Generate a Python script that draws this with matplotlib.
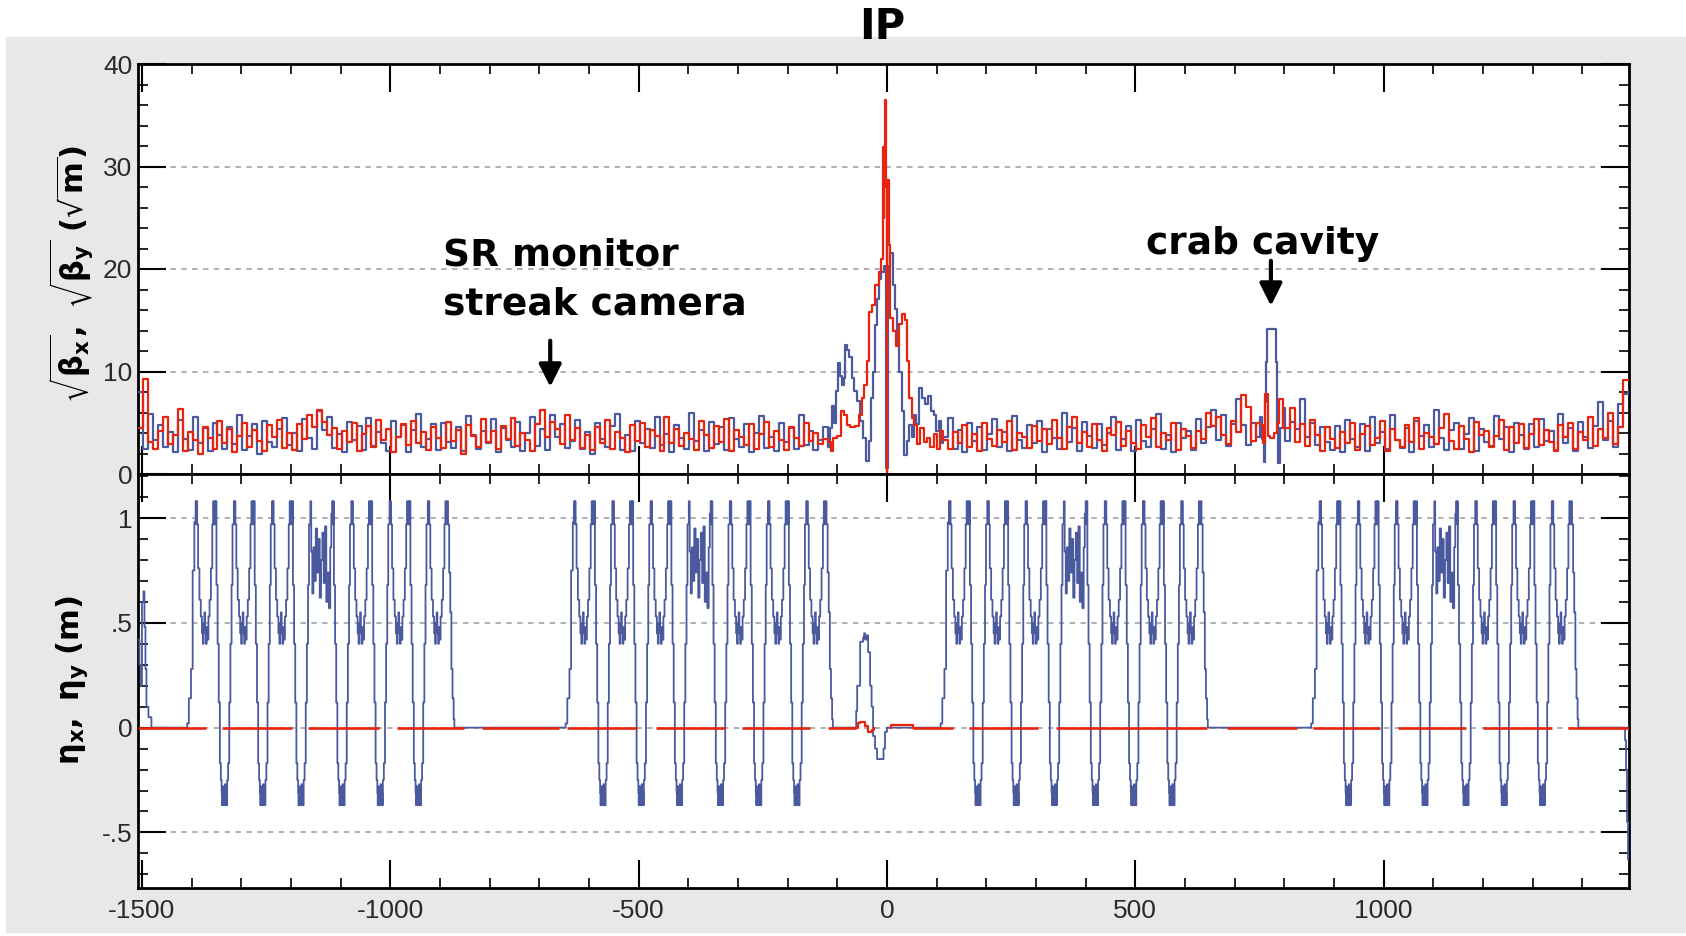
import numpy as np
import matplotlib
matplotlib.use("Agg")
import matplotlib.pyplot as plt
from matplotlib.patches import Rectangle
from matplotlib.ticker import MultipleLocator, FixedLocator, FixedFormatter

plt.rcParams['font.family'] = ['DejaVu Sans']
plt.rcParams['axes.unicode_minus'] = False
plt.rcParams['mathtext.fontset'] = 'dejavusans'
plt.rcParams['mathtext.default'] = 'regular'

BLUE = '#4b5a9f'
RED = '#e8240e'

# ---------------- sqrt(beta) data (sqrt m) ----------------
# arc samples every 10 m
step = 10.0
left_s0, mid_s0, far_s0 = -1508.0, 112.0, 802.0

bx_left = [8.0, 2.4, 5.9, 3.3, 4.8, 2.6, 4.1, 2.1, 5.3, 3.4,
           2.3, 5.6, 3.0, 4.5, 2.2, 5.0, 3.8, 2.4, 4.6, 2.9,
           5.8, 2.3, 3.7, 4.9, 2.0, 5.2, 3.1, 2.6, 4.4, 5.5,
           2.8, 4.0, 2.2, 5.4, 3.5, 2.4, 6.1, 4.3, 5.6, 2.5,
           3.9, 2.1, 5.1, 3.3, 4.7, 2.3, 5.5, 2.7, 4.1, 3.0,
           2.2, 5.2, 3.6, 4.8, 2.1, 4.3, 5.9, 2.6, 3.4, 4.9,
           2.3, 5.0, 3.1, 2.5, 4.6, 2.2, 5.7, 3.8, 2.4, 4.2,
           3.0, 5.4, 2.1, 4.5, 3.3, 2.6, 5.1, 2.2, 4.0, 5.6,
           2.7, 4.4, 2.3, 5.8, 3.6, 4.9, 2.5, 3.2, 5.3, 2.4,
           4.1, 2.0, 5.0, 3.4, 2.6, 4.7, 5.9, 2.3, 3.8, 2.2,
           5.2, 3.0, 4.4, 2.5, 5.6, 2.8, 3.9, 2.1, 4.8, 3.5,
           2.4, 6.0, 3.2, 4.3, 2.2, 5.1, 2.9, 4.6, 2.3, 5.5,
           3.4, 2.6, 4.9, 2.1, 4.0, 5.7, 2.5, 3.6, 2.2, 5.0,
           3.1, 4.5, 2.4, 5.8, 2.8, 4.2, 2.3, 3.3, 4.6]
by_left = [4.5, 9.3, 3.1, 2.4, 4.2, 5.6, 2.9, 3.8, 6.3, 2.2,
           4.1, 3.3, 2.0, 4.6, 3.5, 2.4, 5.2, 3.0, 4.4, 2.1,
           3.7, 5.0, 2.6, 4.3, 3.2, 2.2, 4.8, 3.6, 5.3, 2.5,
           4.0, 2.3, 4.9, 3.4, 5.8, 4.6, 6.2, 5.1, 3.8, 4.5,
           2.4, 4.2, 3.1, 5.0, 2.2, 3.9, 4.7, 2.6, 5.3, 3.3,
           4.4, 2.1, 3.6, 4.9, 2.8, 5.2, 3.0, 4.1, 2.3, 4.6,
           3.5, 2.5, 5.1, 3.2, 4.3, 2.0, 4.8, 3.7, 2.6, 5.4,
           3.1, 4.2, 2.4, 4.7, 3.4, 5.5, 2.7, 4.0, 3.3, 2.2,
           4.9, 6.2, 3.6, 5.1, 4.4, 2.9, 5.8, 3.3, 4.5, 2.5,
           3.8, 2.3, 4.6, 3.0, 5.3, 2.4, 4.1, 3.5, 2.1, 4.8,
           3.2, 5.0, 2.6, 4.3, 3.7, 2.2, 5.6, 3.0, 4.4, 2.7,
           4.0, 3.4, 2.3, 5.2, 3.8, 2.5, 4.7, 3.1, 5.4, 2.2,
           4.3, 3.6, 2.8, 4.9, 2.4, 3.9, 5.1, 2.6, 4.2, 3.3,
           2.3, 4.6, 3.5, 2.7, 5.0, 3.2, 4.0, 2.9, 3.4]

# interaction region, (s, value) breakpoints
bx_ir = [(-118, 2.6), (-114, 4.5), (-111, 6.6), (-107, 5.0), (-103, 8.1), (-99, 10.8),
         (-95, 9.6), (-91, 8.7), (-87, 9.4), (-84, 12.6), (-80, 12.1), (-76, 11.4),
         (-71, 9.4), (-66, 8.1), (-60, 7.1), (-54, 5.2), (-48, 3.5), (-43, 1.3),
         (-37, 3.2), (-32, 7.4), (-28, 10.0), (-24, 14.5), (-20, 17.1), (-16, 19.0),
         (-12, 19.7), (-7, 20.3), (-1.5, 0.6), (1.5, 20.3), (7, 21.6), (12, 18.4),
         (17, 16.1), (21, 12.6), (25, 10.0), (30, 6.1), (35, 1.9), (40, 3.2),
         (45, 4.8), (50, 3.6), (54, 5.8), (59, 4.9), (64, 8.4), (70, 7.4),
         (76, 6.8), (82, 7.6), (88, 6.1), (94, 5.8), (99, 4.2), (105, 5.2), (109, 3.0)]
by_ir = [(-118, 3.1), (-113, 2.2), (-108, 3.5), (-100, 3.7), (-93, 6.1), (-86, 5.8),
         (-80, 4.8), (-74, 4.6), (-64, 4.7), (-57, 5.8), (-51, 7.4), (-46, 8.7),
         (-41, 11.0), (-36, 15.8), (-30, 16.5), (-24, 18.4), (-17, 19.7), (-12, 21.0),
         (-9, 31.9), (-7, 25.0), (-5.5, 30.6), (-4, 36.5), (-2, 28.0), (-0.5, 0.2),
         (0.8, 28.7), (4, 22.3), (7, 15.2), (13, 14.0), (19, 12.5), (25, 14.6),
         (30, 15.6), (36, 15.0), (40, 11.0), (45, 7.4), (50, 5.5), (55, 4.8),
         (61, 2.9), (67, 4.5), (74, 3.1), (80, 3.5), (87, 2.6), (94, 3.9),
         (101, 2.4), (106, 4.2)]

bx_mid = [3.6, 5.5, 2.4, 4.3, 2.1, 5.0, 3.2, 4.6, 2.3, 3.9,
          5.4, 2.6, 4.1, 2.2, 5.7, 3.3, 2.5, 4.8, 3.0, 5.2,
          2.1, 4.4, 3.5, 2.4, 6.0, 3.1, 4.5, 2.2, 5.1, 3.7,
          2.5, 4.9, 2.8, 4.0, 5.6, 2.3, 3.4, 4.7, 2.2, 5.3,
          3.2, 2.6, 4.4, 5.9, 2.4, 3.8, 2.1, 5.0, 3.5, 4.2,
          2.3, 5.4, 3.0, 4.6, 6.2, 3.3, 5.8, 2.7, 4.9, 7.3,
          4.8, 2.8, 5.0, 3.6]
by_mid = [3.3, 2.4, 4.1, 3.0, 4.8, 2.6, 3.9, 2.2, 5.0, 3.4,
          2.7, 4.3, 3.1, 5.2, 2.3, 4.0, 3.6, 2.5, 4.7, 3.2,
          4.4, 2.9, 5.3, 3.5, 2.4, 4.6, 5.6, 3.0, 4.1, 2.6,
          4.9, 3.3, 2.2, 4.5, 3.8, 5.1, 2.7, 4.2, 3.0, 2.4,
          4.8, 3.6, 5.5, 2.6, 4.0, 3.3, 5.0, 2.3, 4.4, 3.7,
          2.5, 4.2, 3.4, 6.0, 4.7, 5.6, 3.8, 2.9, 5.2, 4.1,
          7.7, 6.5, 3.2, 5.0]

# crab cavity, (s, value) breakpoints
bx_crab = [(752, 5.6), (756, 3.4), (759, 1.2), (762, 7.0), (764, 10.9), (766, 14.1),
           (784, 10.9), (786, 5.0), (788, 1.1), (792, 4.5), (797, 6.4)]
by_crab = [(752, 4.8), (757, 3.0), (761, 7.8), (767, 3.7), (772, 3.5), (780, 4.0),
           (786, 5.0), (790, 7.3), (797, 4.5)]

bx_far = [3.2, 5.1, 4.4, 7.3, 3.6, 5.0, 2.8, 4.6, 3.1, 2.3,
          4.7, 2.1, 5.3, 3.4, 2.6, 4.9, 2.2, 5.6, 3.0, 4.1,
          2.4, 5.8, 3.3, 2.5, 4.5, 2.1, 5.2, 3.7, 4.8, 2.6,
          6.2, 3.5, 2.3, 4.3, 5.0, 2.4, 3.9, 5.5, 2.2, 4.4,
          3.1, 2.7, 5.7, 3.4, 4.6, 2.1, 5.0, 3.8, 2.4, 4.9,
          2.6, 5.4, 3.2, 4.2, 2.3, 5.9, 3.0, 4.5, 2.2, 5.1,
          3.6, 2.5, 4.7, 7.0, 3.3, 5.2, 2.6, 6.8, 7.8, 8.0]
by_far = [4.5, 6.4, 3.1, 4.9, 2.7, 5.3, 3.8, 2.2, 4.6, 3.4,
          2.5, 4.1, 3.0, 5.0, 2.3, 3.9, 4.7, 2.8, 3.5, 5.2,
          2.2, 4.4, 3.3, 2.6, 4.8, 3.1, 5.5, 2.4, 4.0, 3.6,
          2.9, 4.5, 5.9, 3.2, 2.4, 4.7, 3.4, 2.1, 5.1, 3.8,
          4.2, 2.6, 3.7, 5.3, 2.3, 4.6, 3.0, 4.9, 2.5, 3.9,
          5.4, 2.8, 4.3, 3.1, 2.2, 4.8, 3.6, 5.0, 2.4, 4.1,
          3.3, 5.6, 2.7, 4.4, 3.5, 6.0, 2.9, 4.6, 9.2, 9.2]

# ---------------- dispersion data (m) ----------------
# eta_x shape of one arc, (fraction of length, value)
eta_rise = [(0.0, 0.02), (0.2, 0.14), (0.45, 0.28), (0.65, 0.75), (0.85, 0.98)]
eta_cell_v = [(0.00, 1.08), (0.03, 0.97), (0.05, 1.08), (0.08, 0.97), (0.13, 0.76),
              (0.20, 0.61), (0.27, 0.53), (0.33, 0.45), (0.38, 0.40), (0.42, 0.50),
              (0.46, 0.55), (0.50, 0.45), (0.54, 0.40), (0.58, 0.48), (0.62, 0.42),
              (0.67, 0.53), (0.73, 0.61), (0.80, 0.76), (0.87, 0.97), (0.92, 1.08),
              (0.95, 0.97)]
eta_cell_d = [(0.00, 1.08), (0.03, 0.97), (0.06, 1.08), (0.09, 0.68), (0.15, 0.40),
              (0.21, 0.12), (0.27, -0.17), (0.32, -0.25), (0.36, -0.31), (0.38, -0.37),
              (0.41, -0.28), (0.44, -0.37), (0.47, -0.30), (0.50, -0.37), (0.53, -0.27),
              (0.56, -0.37), (0.59, -0.31), (0.62, -0.37), (0.65, -0.25), (0.70, -0.17),
              (0.76, 0.12), (0.82, 0.40), (0.88, 0.68), (0.93, 0.97)]
eta_cell_w = [(0.00, 1.08), (0.04, 0.84), (0.09, 0.64), (0.14, 0.86), (0.19, 0.70),
              (0.25, 0.95), (0.31, 0.74), (0.37, 0.90), (0.43, 0.62), (0.49, 0.80),
              (0.55, 0.93), (0.61, 0.69), (0.67, 0.96), (0.73, 0.60), (0.79, 0.74),
              (0.85, 0.57), (0.91, 0.86), (0.96, 1.02)]
eta_fall = [(0.0, 1.08), (0.15, 0.97), (0.3, 0.74), (0.45, 0.55), (0.6, 0.28),
            (0.75, 0.14), (0.9, 0.04)]
arc_cells = ['v', 'd', 'v', 'd', 'v', 'd', 'w', 'd', 'v', 'd', 'v', 'd', 'v']
cell_len = {'v': 38.5, 'd': 38.5, 'w': 44.0}
rise_len, fall_len = 17.0, 15.0
arc_starts = [-1409, -647, 108, 854]

etax_left_edge = [(-1508, 0.42), (-1505, 0.30), (-1502, 0.20), (-1500, 0.60), (-1497, 0.65),
                  (-1495, 0.48), (-1493, 0.28), (-1491, 0.10), (-1487, 0.05), (-1481, 0.0)]
etax_ir = [(-62, 0.08), (-60, 0.20), (-54, 0.41), (-48, 0.43), (-46, 0.45), (-44, 0.42),
           (-41, 0.44), (-38, 0.36), (-34, 0.20), (-31, 0.10), (-28, -0.04), (-24, -0.10),
           (-20, -0.15), (-11, -0.15), (-7, -0.10), (-4, -0.02), (0, 0.0)]
etax_right_edge = [(1484, 0.0), (1486, -0.06), (1488, -0.20), (1490, -0.45), (1492, -0.63),
                   (1500, -0.63)]

# eta_y: stretches where the red line is drawn at zero, plus small IR bumps
etay_on = [(-1508, -1371), (-1339, -1197), (-1165, -1023), (-987, -851), (-815, -660),
           (-644, -503), (-465, -327), (-292, -155), (-119, -62), (53, 132), (165, 305),
           (340, 645), (684, 825), (857, 993), (1028, 1165), (1200, 1338), (1372, 1494)]
etay_ir = [(-62, 0.0), (-58, 0.02), (-54, 0.025), (-44, 0.01), (-38, -0.02), (-31, -0.01),
           (-27, 0.0)]
etay_plateau = (9, 53, 0.012)


def grid_part(s0, vals):
    return list(s0 + step * np.arange(len(vals))), list(vals)


def pairs_part(pairs):
    return [p[0] for p in pairs], [p[1] for p in pairs]


def beta_series(left, ir, mid, crab, far):
    s, v = [], []
    for ps, pv in [grid_part(left_s0, left), pairs_part(ir), grid_part(mid_s0, mid),
                   pairs_part(crab), grid_part(far_s0, far)]:
        s += ps
        v += pv
    s.append(s[-1] + step)
    v.append(v[-1])
    return np.array(s), np.array(v)


def eta_x_series():
    pieces = [pairs_part(etax_left_edge)]
    cells = {'v': eta_cell_v, 'd': eta_cell_d, 'w': eta_cell_w}
    for a0 in arc_starts:
        s, v = [], []
        for f, val in eta_rise:
            s.append(a0 + f * rise_len)
            v.append(val)
        pos = a0 + rise_len
        for kind in arc_cells:
            for f, val in cells[kind]:
                s.append(pos + f * cell_len[kind])
                v.append(val)
            pos += cell_len[kind]
        for f, val in eta_fall:
            s.append(pos + f * fall_len)
            v.append(val)
        s.append(pos + fall_len)
        v.append(0.0)
        pieces.append((s, v))
    pieces.append(pairs_part(etax_ir))
    pieces.append(pairs_part(etax_right_edge))
    pieces.sort(key=lambda p: p[0][0])
    s, v = [], []
    for ps, pv in pieces:
        s += ps
        v += pv
    return np.array(s), np.array(v)


sbx, bx = beta_series(bx_left, bx_ir, bx_mid, bx_crab, bx_far)
sby, by = beta_series(by_left, by_ir, by_mid, by_crab, by_far)
sex, ex = eta_x_series()

# ---------------- figure ----------------
W, H = 1686, 936
fig = plt.figure(figsize=(W / 100, H / 100), dpi=100)
fig.patches.append(Rectangle((6 / W, 4 / H), 1 - 6 / W, (H - 37 - 4) / H,
                             transform=fig.transFigure, color='#e8e8e8', zorder=-5))

x0, x1 = 138 / W, 1629 / W
ax1 = fig.add_axes([x0, 1 - 474 / H, x1 - x0, (474 - 64) / H])
ax2 = fig.add_axes([x0, 1 - 888 / H, x1 - x0, (888 - 474) / H])

ax1.step(sbx, bx, where='post', color=BLUE, lw=1.6, zorder=3)
ax1.step(sby, by, where='post', color=RED, lw=1.6, zorder=4)

ax2.step(sex, ex, where='post', color=BLUE, lw=1.3, zorder=3)
for a, b in etay_on:
    ax2.plot([a, b], [0, 0], color=RED, lw=1.9, zorder=4, solid_capstyle='butt')
ax2.step([p[0] for p in etay_ir], [p[1] for p in etay_ir], where='post',
         color=RED, lw=1.6, zorder=4)
ax2.plot([etay_plateau[0], etay_plateau[0], etay_plateau[1], etay_plateau[1]],
         [0, etay_plateau[2], etay_plateau[2], 0], color=RED, lw=1.6, zorder=4)

for ax in (ax1, ax2):
    ax.set_xlim(-1508, 1494)
    ax.xaxis.set_major_locator(MultipleLocator(500))
    ax.xaxis.set_minor_locator(MultipleLocator(100))
    ax.tick_params(which='both', direction='in', top=True, right=True,
                   colors='black', labelcolor='#2a2a2a', labelsize=19)
    ax.tick_params(which='major', length=20, width=1.5)
    ax.tick_params(which='minor', length=7, width=1.2)
    ax.tick_params(axis='y', pad=4)
    ax.grid(axis='y', which='major', ls=(0, (3, 3)), color='#aaaaaa', lw=1.3)
    ax.set_axisbelow(True)
    for sp in ax.spines.values():
        sp.set_linewidth(2)

ax1.set_ylim(0, 40)
ax1.yaxis.set_major_locator(MultipleLocator(10))
ax1.yaxis.set_minor_locator(MultipleLocator(2))
ax1.tick_params(labelbottom=False)

ax2.set_ylim(-0.765, 1.21)
ax2.yaxis.set_major_locator(FixedLocator([-0.5, 0, 0.5, 1.0]))
ax2.yaxis.set_major_formatter(FixedFormatter(['-.5', '0', '.5', '1']))
ax2.yaxis.set_minor_locator(MultipleLocator(0.1))
ax2.tick_params(axis='x', pad=8)
for ax in (ax1, ax2):
    for lab in ax.get_xticklabels() + ax.get_yticklabels():
        lab.set_family('Liberation Sans')

fig.text(72 / W, 1 - 274 / H, r'$\sqrt{\beta_x},\ \sqrt{\beta_y}\ (\sqrt{m})$',
         rotation=90, ha='center', va='center', fontsize=22, fontweight='bold')
fig.text(72 / W, 1 - 680 / H, r'$\eta_x,\ \eta_y\ (m)$',
         rotation=90, ha='center', va='center', fontsize=22, fontweight='bold')

fig.text(882 / W, 1 - 27 / H, 'IP', ha='center', va='center', fontsize=30, fontweight='bold')

ax1.text(-893, 20.3, 'SR monitor', fontsize=27, fontweight='bold', va='baseline', ha='left')
ax1.text(-893, 15.6, 'streak camera', fontsize=27, fontweight='bold', va='baseline', ha='left')
ax1.text(521, 21.5, 'crab cavity', fontsize=27, fontweight='bold', va='baseline', ha='left')
arrow = dict(arrowstyle='-|>', color='black', lw=3, mutation_scale=34, shrinkA=0, shrinkB=0)
ax1.annotate('', xy=(-678, 8.5), xytext=(-678, 13.0), arrowprops=arrow)
ax1.annotate('', xy=(773, 16.4), xytext=(773, 20.8), arrowprops=arrow)

fig.savefig('out.png', dpi=100, facecolor='white')
